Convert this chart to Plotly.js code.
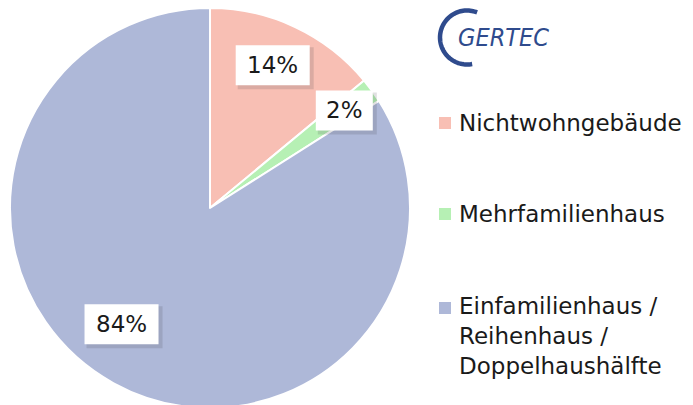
<!DOCTYPE html>
<html><head><meta charset="utf-8">
<script src="https://cdn.plot.ly/plotly-3.0.1.min.js"></script>
<style>html,body{margin:0;padding:0;overflow:hidden;background:#fff;width:693px;height:405px}#c{width:693px;height:416px}</style>
</head><body><div id="c"></div>
<script>
const categories = ["Nichtwohngebäude", "Mehrfamilienhaus", "Einfamilienhaus / Reihenhaus / Doppelhaushälfte"];
const legendLabels = ["Nichtwohngebäude", "Mehrfamilienhaus", "Einfamilienhaus /<br>Reihenhaus /<br>Doppelhaushälfte"];
const shares = [14, 2, 84];
const sliceColors = ["#f8bfb4", "#b6f0b4", "#aeb8d8"];

const W = 693, PT = 8, PH = 400;
const px = x => x / W;
const py = y => (PT + PH - y) / PH;
const FONT = "DejaVu Sans, Liberation Sans, Arial, sans-serif";

// pie geometry (pixels)
const CX = 210, CY = 208, R = 200;
const total = shares.reduce((a, b) => a + b, 0);
const labelRadius = [0.78, 0.83, 0.73];
const labelNudge = [-1.5, 0, 8.5]; // degrees

const annotations = [];
const shapes = [];
let cum = 0;
shares.forEach((v, i) => {
  const mid = (cum + v / 2) / total * 360 + labelNudge[i];
  cum += v;
  const a = mid * Math.PI / 180;
  const r = R * labelRadius[i];
  const x = CX + r * Math.sin(a), y = CY - r * Math.cos(a);
  const txt = Math.round(v / total * 100) + "%";
  const bw = 17 * txt.length + 23, bh = 40;
  // soft shadow
  shapes.push({type: "rect", xref: "paper", yref: "paper", layer: "above",
    x0: px(x - bw / 2 + 2), x1: px(x + bw / 2 + 4), y0: py(y + bh / 2 + 4), y1: py(y - bh / 2 + 2),
    fillcolor: "rgba(60,60,70,0.16)", line: {width: 0}});
  shapes.push({type: "rect", xref: "paper", yref: "paper", layer: "above",
    x0: px(x - bw / 2), x1: px(x + bw / 2), y0: py(y + bh / 2), y1: py(y - bh / 2),
    fillcolor: "#ffffff", line: {width: 0}});
  annotations.push({xref: "paper", yref: "paper", x: px(x), y: py(y), text: txt, showarrow: false,
    font: {family: FONT, size: 23, color: "#1a1a1a"},
    xanchor: "center", yanchor: "middle"});
});

// custom legend
const legendTop = [123, 214, 297];
categories.forEach((c, i) => {
  const multi = legendLabels[i].indexOf("<br>") >= 0;
  const sqY = multi ? legendTop[i] + 11 : legendTop[i];
  shapes.push({type: "rect", xref: "paper", yref: "paper", x0: px(439), x1: px(451), y0: py(sqY - 6), y1: py(sqY + 6),
    fillcolor: sliceColors[i], line: {width: 0}});
  annotations.push({xref: "paper", yref: "paper", x: px(457), y: py(multi ? legendTop[i] - 6 : legendTop[i]),
    text: legendLabels[i], showarrow: false, align: "left", xanchor: "left", yanchor: multi ? "top" : "middle",
    font: {family: FONT, size: 23, color: "#1a1a1a"}});
});

// logo
const lcx = 467, lcy = 37.5, lr = 27;
let d = "";
for (let t = -68; t >= -281; t -= 3) {
  const a = t * Math.PI / 180;
  const X = lcx + lr * Math.cos(a), Y = lcy + lr * Math.sin(a);
  d += (d ? " L " : "M ") + px(X).toFixed(5) + "," + py(Y).toFixed(5);
}
shapes.push({type: "path", xref: "paper", yref: "paper", path: d, line: {color: "#2f4b8d", width: 4.5}});
annotations.push({xref: "paper", yref: "paper", x: px(503), y: py(38), text: "<i>GERTEC</i>", showarrow: false,
  xanchor: "center", yanchor: "middle",
  font: {family: "DejaVu Sans Condensed, Liberation Sans Narrow, Liberation Sans, sans-serif", size: 25, color: "#2f4b8d"}});

const data = [{
  type: "pie",
  labels: categories,
  values: shares,
  sort: false,
  direction: "clockwise",
  rotation: 0,
  marker: {colors: sliceColors, line: {color: "#ffffff", width: 2}},
  textinfo: "none",
  hoverinfo: "label+percent",
  domain: {x: [px(CX - R), px(CX + R)], y: [0, 1]},
  showlegend: false
}];

const layout = {
  width: 693, height: 416,
  margin: {l: 0, r: 0, t: PT, b: 8, pad: 0},
  paper_bgcolor: "#ffffff",
  showlegend: false,
  annotations: annotations,
  shapes: shapes
};
Plotly.newPlot("c", data, layout, {displayModeBar: false, staticPlot: true});
</script>
</body></html>
